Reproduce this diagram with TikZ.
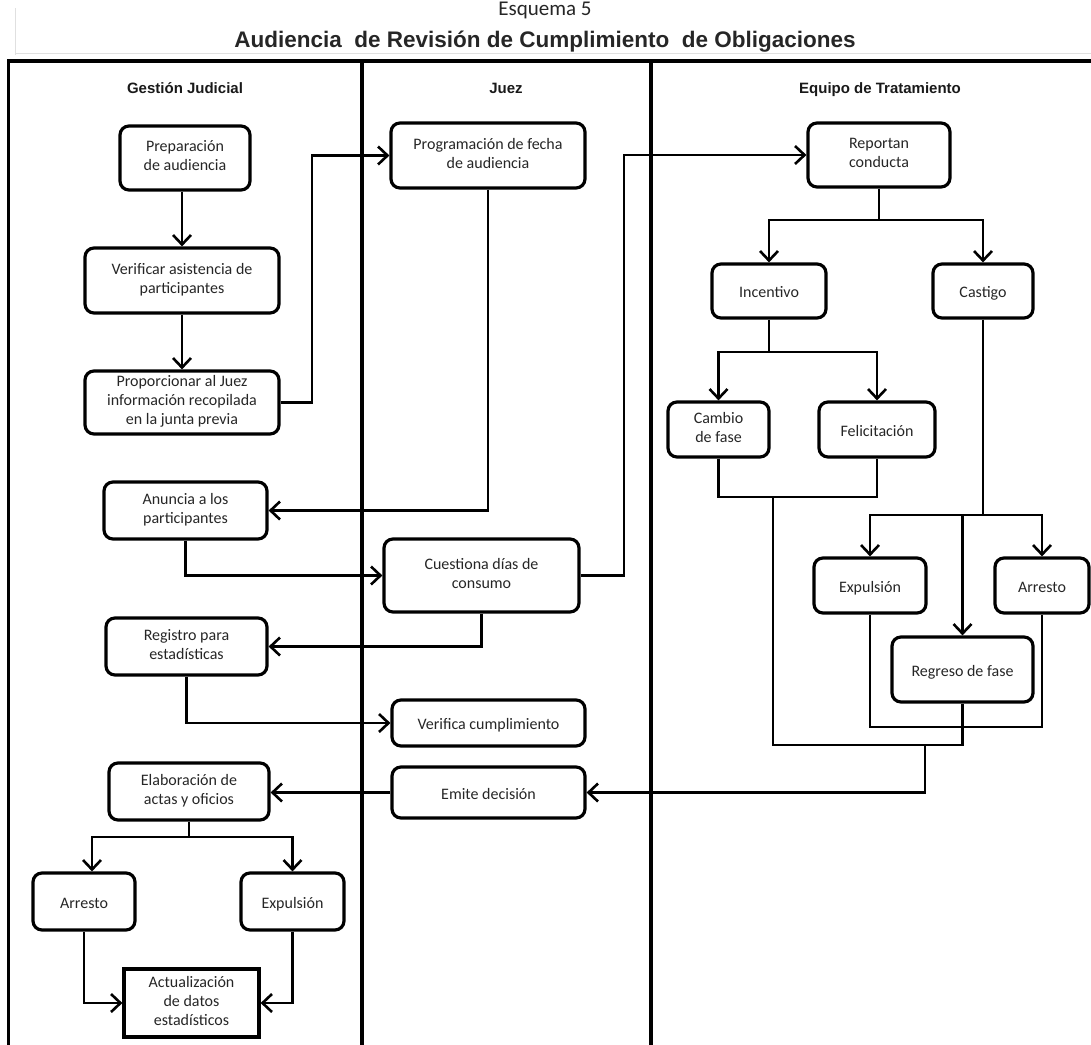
\documentclass[tikz,border=0pt]{standalone}
\usepackage{fontspec}
\setmainfont{Carlito}
\newfontfamily\arialf{Liberation Sans}
\usetikzlibrary{arrows.meta}
\newcommand\boxstrut{\rule[-4.5pt]{0pt}{22pt}}
\tikzset{
  box/.style={draw, line width=3.2pt, rounded corners=9pt, align=center, inner sep=0pt,
    font=\fontsize{16}{19}\selectfont, text=black!85,
    execute at begin node={\boxstrut}, execute at end node={\boxstrut}},
  sqbox/.style={box, rounded corners=0pt},
  conn/.style={line width=2.6pt},
  arr/.style={conn, -{Straight Barb[length=9.5pt,width=18pt]}},
  lane/.style={line width=3.5pt},
  head/.style={font=\arialf\bfseries\fontsize{15}{18}\selectfont, inner sep=0pt, anchor=base, text=black!90},
  faint/.style={line width=1pt, draw=black!12},
}
\begin{document}
\begin{tikzpicture}[x=1pt, y=-1pt]
\useasboundingbox (0,0) rectangle (1091,1044);

% title block
\node[anchor=base, font=\fontsize{21}{24}\selectfont, text=black!85, inner sep=0pt] (esq) at (545,16) {Esquema 5};
\draw[faint] (15,8) -- (15,55);
\draw[faint] (15,53) -- (1091,53);
\node[anchor=base, font=\arialf\bfseries\fontsize{22.5}{26}\selectfont, text=black!85, inner sep=0pt] (title) at (545,47)
  {Audiencia\ \ de Revisión de Cumplimiento\ \ de Obligaciones};

% lanes
\draw[lane] (8,61) -- (1092,61);
\draw[lane] (8.5,59.3) -- (8.5,1046);
\draw[lane] (362,61) -- (362,1046);
\draw[lane] (651,61) -- (651,1046);

\node[head] (h1) at (185,93) {Gestión Judicial};
\node[head] (h2) at (506,93) {Juez};
\node[head] (h3) at (880,93) {Equipo de Tratamiento};

% Gestion Judicial
\node[box, minimum width=130pt, minimum height=64pt] (prep) at (185,158) {Preparación\\de audiencia};
\node[box, minimum width=194pt, minimum height=65pt] (verif) at (182,280.5) {Verificar asistencia de\\participantes};
\node[box, minimum width=194pt, minimum height=63pt] (prop) at (182,402.5) {Proporcionar al Juez\\información recopilada\\en la junta previa};
\node[box, minimum width=163pt, minimum height=57pt] (anun) at (185.5,510.5) {Anuncia a los\\participantes};
\node[box, minimum width=161pt, minimum height=57pt] (regis) at (186.5,646.5) {Registro para\\estadísticas};
\node[box, minimum width=160pt, minimum height=57pt] (elab) at (189,791.5) {Elaboración de\\actas y oficios};
\node[box, minimum width=102pt, minimum height=57pt] (arr1) at (84,901.5) {Arresto};
\node[box, minimum width=103pt, minimum height=57pt] (exp1) at (292.5,901.5) {Expulsión};
\node[sqbox, minimum width=135pt, minimum height=68pt] (act) at (191.5,1003) {Actualización\\de datos\\estadísticos};

% Juez
\node[box, minimum width=194pt, minimum height=65pt] (prog) at (488,155.5) {Programación de fecha\\de audiencia};
\node[box, minimum width=195pt, minimum height=73pt] (cuest) at (481.5,575.5) {Cuestiona días de\\consumo};
\node[box, minimum width=193pt, minimum height=46pt] (verc) at (488.5,723) {Verifica cumplimiento};
\node[box, minimum width=193pt, minimum height=51pt] (emite) at (488.5,792.5) {Emite decisión};

% Equipo de Tratamiento
\node[box, minimum width=142pt, minimum height=64pt] (rep) at (879,155) {Reportan\\conducta};
\node[box, minimum width=114pt, minimum height=54pt] (inc) at (769,291) {Incentivo};
\node[box, minimum width=100pt, minimum height=54pt] (cas) at (983,291) {Castigo};
\node[box, minimum width=101pt, minimum height=55pt] (cam) at (718.5,429.5) {Cambio\\de fase};
\node[box, minimum width=116pt, minimum height=55pt] (fel) at (877,429.5) {Felicitación};
\node[box, minimum width=112pt, minimum height=55pt] (exp2) at (870,585.5) {Expulsión};
\node[box, minimum width=94pt, minimum height=55pt] (arr2) at (1042,585.5) {Arresto};
\node[box, minimum width=141pt, minimum height=65pt] (reg) at (962.5,669.5) {Regreso de fase};

% connectors - Gestion / Juez
\draw[arr] (verif.north |- prep.south) -- (verif.north);
\draw[arr] (verif.south) -- (prop.north);
\draw[arr] (prop.east) -- (312,402.5) |- (prog.west);
\draw[arr] (prog.south) |- (anun.east);
\draw[arr] (anun.south) |- (cuest.west);
\draw[arr] (cuest.east) -- (624,575.5) |- (rep.west);
\draw[arr] (cuest.south) |- (regis.east);
\draw[arr] (regis.south) |- (verc.west);
\draw[arr] (emite.west) -- (emite.west -| elab.east);
\coordinate (j2) at (189,837);
\draw[conn] (elab.south) -- (j2);
\draw[arr] (j2) -| ([xshift=8pt]arr1.north);
\draw[arr] (j2) -| (exp1.north);
\draw[arr] (arr1.south) |- (act.west);
\draw[arr] (exp1.south) |- (act.east);

% connectors - Equipo
\coordinate (j3) at (879,220);
\draw[conn] (rep.south) -- (j3);
\draw[arr] (j3) -| (inc.north);
\draw[arr] (j3) -| (cas.north);
\coordinate (j4) at (769,352);
\draw[conn] (inc.south) -- (j4);
\draw[arr] (j4) -| (cam.north);
\draw[arr] (j4) -| (fel.north);
\coordinate (j5) at (773,497);
\draw[conn] (cam.south) |- (j5) -| (fel.south);
\coordinate (j6) at (983,515);
\draw[conn] (cas.south) -- (j6);
\draw[arr] (j6) -| (exp2.north);
\draw[arr] (j6) -| (arr2.north);
\draw[arr] (reg.north |- j6) -- (reg.north);
\coordinate (j7) at (960,727);
\draw[conn] (exp2.south) |- (j7) -| (arr2.south);
\coordinate (j8) at (925,745);
\draw[conn] (j5) |- (reg.south |- j8) -- (reg.south);
\draw[arr] (j8) |- (emite.east);
\end{tikzpicture}
\end{document}
